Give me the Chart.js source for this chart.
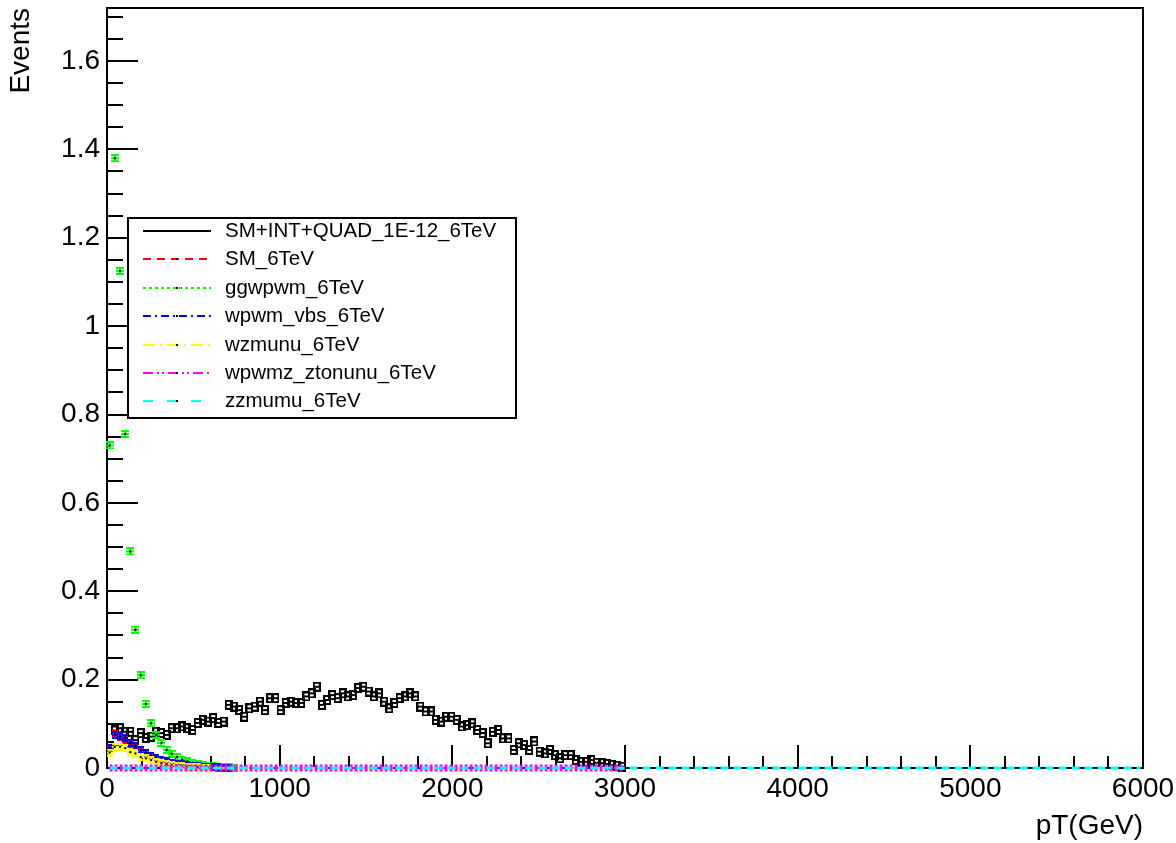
<!DOCTYPE html>
<html>
<head>
<meta charset="utf-8">
<script src="https://cdn.jsdelivr.net/npm/chart.js@4.4.1/dist/chart.umd.min.js"></script>
<style>
  html, body { margin: 0; padding: 0; background: #fff; }
  #wrap { width: 1176px; height: 843px; }
</style>
</head>
<body>
<div id="wrap"><canvas id="ptChart" width="1176" height="843"></canvas></div>
<script>
// pT histograms, 30 GeV bins
const binWidth = 30;

const smIntQuad = [
  0.050, 0.085, 0.090, 0.082, 0.082, 0.063, 0.079, 0.068, 0.071, 0.082,
  0.079, 0.075, 0.090, 0.090, 0.094, 0.090, 0.086, 0.102, 0.109, 0.105,
  0.113, 0.102, 0.105, 0.143, 0.139, 0.131, 0.116, 0.135, 0.139, 0.150,
  0.131, 0.158, 0.158, 0.131, 0.147, 0.150, 0.147, 0.147, 0.162, 0.169,
  0.184, 0.143, 0.154, 0.165, 0.158, 0.169, 0.162, 0.165, 0.181, 0.184,
  0.173, 0.162, 0.169, 0.150, 0.135, 0.147, 0.158, 0.162, 0.169, 0.162,
  0.139, 0.128, 0.128, 0.109, 0.105, 0.116, 0.116, 0.109, 0.094, 0.097,
  0.101, 0.086, 0.079, 0.056, 0.082, 0.086, 0.067, 0.067, 0.041, 0.056,
  0.052, 0.041, 0.060, 0.037, 0.033, 0.041, 0.029, 0.022, 0.029, 0.029,
  0.018, 0.014, 0.014, 0.018, 0.012, 0.011, 0.009, 0.007, 0.005, 0.003
];
const smOnly = [
  0.042, 0.078, 0.070, 0.064, 0.055, 0.047, 0.039, 0.032, 0.026, 0.021,
  0.017, 0.014, 0.011, 0.009, 0.007, 0.006, 0.005, 0.004, 0.003, 0.002,
  0.002, 0.001, 0.001
];
const ggwpwm = [
  0.730, 1.380, 1.125, 0.756, 0.490, 0.313, 0.210, 0.145, 0.101, 0.075,
  0.057, 0.041, 0.032, 0.025, 0.019, 0.015, 0.012, 0.009, 0.007, 0.005,
  0.004, 0.003, 0.002, 0.002, 0.001
];
const wpwmVbs = [
  0.045, 0.075, 0.072, 0.068, 0.057, 0.050, 0.041, 0.034, 0.027, 0.022,
  0.018, 0.015, 0.012, 0.010, 0.008, 0.006, 0.005, 0.004, 0.003, 0.003,
  0.002, 0.002, 0.001, 0.001
];
const wzmunu = [
  0.035, 0.048, 0.048, 0.045, 0.036, 0.033, 0.025, 0.022, 0.018, 0.014,
  0.011, 0.009, 0.007, 0.005, 0.004, 0.003, 0.002, 0.002, 0.001, 0.001
];
const wpwmzZtonunu = [];
const zzmumu = [];

const xTickValues = [0, 1000, 2000, 3000, 4000, 5000, 6000];
const xTickLabels = ['0', '1000', '2000', '3000', '4000', '5000', '6000'];
const yTickValues = [0, 0.2, 0.4, 0.6, 0.8, 1, 1.2, 1.4, 1.6];
const yTickLabels = ['0', '0.2', '0.4', '0.6', '0.8', '1', '1.2', '1.4', '1.6'];

const FONT = '"Liberation Sans", Arial, Helvetica, sans-serif';

// histogram -> points at bin centres, empty bins up to the histogram's upper edge
function toPoints(values, upperEdge) {
  const n = Math.round(upperEdge / binWidth);
  const pts = [];
  for (let i = 0; i < n; i++) {
    pts.push({ x: binWidth * (i + 0.5), y: i < values.length ? values[i] : 0 });
  }
  return pts;
}

// error bar glyph, roughly what ROOT "E1" gives at this size
function errGlyph(color, w, h, boxed) {
  const c = document.createElement('canvas');
  c.width = w; c.height = h;
  const g = c.getContext('2d');
  g.fillStyle = color;
  g.fillRect(0, 0, w, 2);
  g.fillRect(0, h - 2, w, 2);
  if (boxed) {
    g.fillRect(0, 0, 2, h);
    g.fillRect(w - 2, 0, 2, h);
    g.fillRect(0, Math.floor(h / 2) - 1, w, 2);
  } else {
    g.fillRect(0, Math.floor(h / 2) - 1, w, 2);
    g.fillRect(Math.floor(w / 2) - 1, 0, 2, h);
  }
  g.fillStyle = '#000';
  g.fillRect(Math.floor(w / 2) - 1, Math.floor(h / 2) - 1, 2, 2);
  return c;
}

function series(label, values, upperEdge, color, opts) {
  return {
    label: label,
    data: toPoints(values, upperEdge),
    borderColor: color,
    borderWidth: opts.lineWidth || 2,
    borderDash: opts.dash,
    legendDash: opts.legendDash || opts.dash,
    legendColor: color,
    segment: {
      borderColor: c => (c.p0.parsed.y === 0 && c.p1.parsed.y === 0) ? color : 'rgba(0,0,0,0)'
    },
    pointStyle: errGlyph(color, opts.gw || 6, opts.gh || 8, opts.boxed),
    pointRadius: c => (c.raw && c.raw.y > 0 ? 3 : 0),
    pointHoverRadius: 0,
    tension: 0,
    fill: false,
    clip: false,
    order: opts.order
  };
}

const datasets = [
  series('SM+INT+QUAD_1E-12_6TeV', smIntQuad, 6000, '#000000', { dash: [], gw: 8, gh: 10, boxed: true, order: 7 }),
  series('SM_6TeV', smOnly, 3000, '#ff0000', { dash: [8, 6], order: 6 }),
  series('ggwpwm_6TeV', ggwpwm, 3000, '#00ff00', { dash: [3, 3], gw: 8, gh: 8, order: 5 }),
  series('wpwm_vbs_6TeV', wpwmVbs, 3000, '#0000ff', { dash: [8, 4, 2, 4], order: 4 }),
  series('wzmunu_6TeV', wzmunu, 3000, '#ffff00', { dash: [12, 5, 2, 5], order: 3 }),
  series('wpwmz_ztonunu_6TeV', wpwmzZtonunu, 3000, '#ff00ff', { dash: [3, 2], lineWidth: 7, legendDash: [10, 4, 2, 3, 2, 4], order: 2 }),
  series('zzmumu_6TeV', zzmumu, 6000, '#00ffff', { dash: [8, 5], lineWidth: 3, legendDash: [10, 14], order: 1 })
];

// ROOT style frame with inward ticks
const rootFrame = {
  id: 'rootFrame',
  beforeDatasetsDraw(chart) {
    const { ctx, chartArea: a, scales: { x, y } } = chart;
    ctx.save();
    ctx.strokeStyle = '#000';
    ctx.lineWidth = 2;
    ctx.strokeRect(a.left, a.top, a.right - a.left, a.bottom - a.top);
    ctx.beginPath();
    for (let k = 0; k * 200 <= x.max; k++) {
      const px = Math.round(x.getPixelForValue(k * 200));
      ctx.moveTo(px, a.bottom);
      ctx.lineTo(px, a.bottom - (k % 5 === 0 ? 23 : 12));
    }
    for (let k = 0; k * 0.05 <= y.max + 1e-9; k++) {
      const py = Math.round(y.getPixelForValue(k * 0.05));
      ctx.moveTo(a.left, py);
      ctx.lineTo(a.left + (k % 4 === 0 ? 31 : 16), py);
    }
    ctx.stroke();
    ctx.restore();
  }
};

const rootLegend = {
  id: 'rootLegend',
  afterDraw(chart) {
    const ctx = chart.ctx;
    ctx.save();
    ctx.fillStyle = '#fff';
    ctx.fillRect(128, 218, 388, 200);
    ctx.lineWidth = 2;
    ctx.strokeStyle = '#000';
    ctx.strokeRect(128, 218, 388, 200);
    ctx.font = '20.5px ' + FONT;
    ctx.textBaseline = 'middle';
    chart.data.datasets.forEach((ds, i) => {
      const yy = Math.round(231 + i * 28.4);
      ctx.beginPath();
      ctx.setLineDash(ds.legendDash);
      ctx.strokeStyle = ds.legendColor;
      ctx.lineWidth = 2;
      ctx.moveTo(143, yy);
      ctx.lineTo(211, yy);
      ctx.stroke();
      ctx.setLineDash([]);
      ctx.fillStyle = '#000';
      ctx.fillRect(176, yy - 1, 2, 2);
      ctx.fillText(ds.label, 225, yy);
    });
    ctx.restore();
  }
};

const ctx = document.getElementById('ptChart').getContext('2d');
new Chart(ctx, {
  type: 'line',
  data: { datasets: datasets },
  options: {
    responsive: false,
    animation: false,
    layout: { padding: { top: 8, right: 33, left: 0, bottom: 0 } },
    plugins: { legend: { display: false }, tooltip: { enabled: false } },
    scales: {
      x: {
        type: 'linear',
        min: 0,
        max: 6000,
        grid: { display: false, drawTicks: false },
        border: { display: false },
        afterBuildTicks: s => { s.ticks = xTickValues.map(v => ({ value: v })); },
        ticks: {
          callback: (v, i) => xTickLabels[i],
          font: { family: FONT, size: 28 },
          color: '#000',
          padding: 4,
          maxRotation: 0,
          autoSkip: false
        },
        title: {
          display: true,
          text: 'pT(GeV)',
          align: 'end',
          color: '#000',
          font: { family: FONT, size: 28 },
          padding: 0
        },
        afterFit: s => { s.height = 75; s.paddingLeft = 0; s.paddingRight = 0; }
      },
      y: {
        type: 'linear',
        min: 0,
        max: 1.72,
        grid: { display: false, drawTicks: false },
        border: { display: false },
        afterBuildTicks: s => { s.ticks = yTickValues.map(v => ({ value: v })); },
        ticks: {
          callback: (v, i) => yTickLabels[i],
          font: { family: FONT, size: 28 },
          color: '#000',
          padding: 7,
          autoSkip: false
        },
        title: {
          display: true,
          text: 'Events',
          align: 'end',
          color: '#000',
          font: { family: FONT, size: 28 },
          padding: { top: 4, bottom: 0 }
        },
        afterFit: s => { s.width = 107; s.paddingTop = 0; s.paddingBottom = 0; }
      }
    }
  },
  plugins: [rootFrame, rootLegend]
});
</script>
</body>
</html>
